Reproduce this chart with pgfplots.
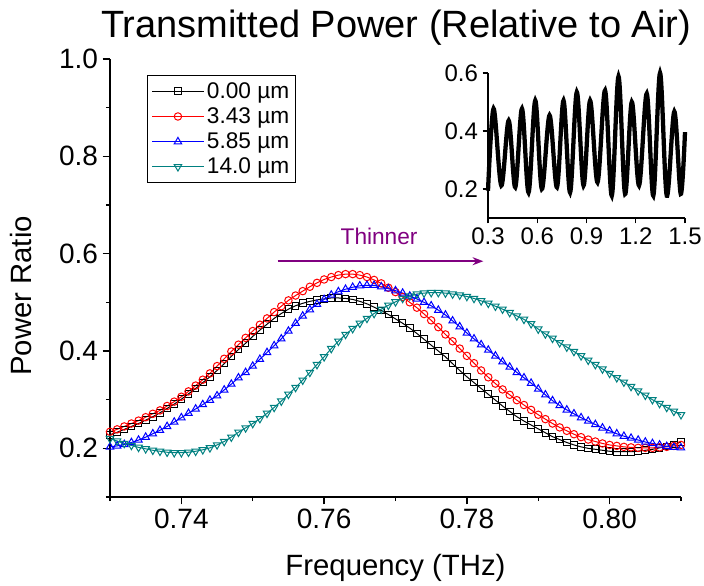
\documentclass[border=0pt]{standalone}
\usepackage{pgfplots}
\pgfplotsset{compat=1.18}
\usepackage{pgfplotstable}
\usepackage{fontspec}
\setmainfont{Liberation Sans}
\usetikzlibrary{arrows.meta}
\definecolor{tealc}{RGB}{0,128,128}
\definecolor{purp}{RGB}{128,0,128}

\pgfplotstableread{
x y
0.730 0.228
0.731 0.233
0.732 0.239
0.733 0.245
0.734 0.251
0.735 0.258
0.736 0.265
0.737 0.273
0.738 0.282
0.739 0.291
0.740 0.301
0.741 0.312
0.742 0.323
0.743 0.335
0.744 0.347
0.745 0.360
0.746 0.374
0.747 0.389
0.748 0.403
0.749 0.416
0.750 0.430
0.751 0.443
0.752 0.455
0.753 0.467
0.754 0.477
0.755 0.486
0.756 0.493
0.757 0.498
0.758 0.502
0.759 0.505
0.760 0.507
0.761 0.509
0.762 0.509
0.763 0.508
0.764 0.506
0.765 0.502
0.766 0.497
0.767 0.490
0.768 0.483
0.769 0.475
0.770 0.466
0.771 0.457
0.772 0.447
0.773 0.436
0.774 0.424
0.775 0.412
0.776 0.400
0.777 0.388
0.778 0.374
0.779 0.360
0.780 0.347
0.781 0.335
0.782 0.323
0.783 0.311
0.784 0.299
0.785 0.287
0.786 0.276
0.787 0.265
0.788 0.256
0.789 0.248
0.790 0.240
0.791 0.232
0.792 0.224
0.793 0.218
0.794 0.212
0.795 0.207
0.796 0.203
0.797 0.200
0.798 0.198
0.799 0.196
0.800 0.194
0.801 0.193
0.802 0.193
0.803 0.193
0.804 0.194
0.805 0.196
0.806 0.198
0.807 0.201
0.808 0.204
0.809 0.208
0.810 0.213
}\tblack

\pgfplotstableread{
x y
0.730 0.234
0.731 0.239
0.732 0.245
0.733 0.251
0.734 0.257
0.735 0.264
0.736 0.271
0.737 0.278
0.738 0.287
0.739 0.296
0.740 0.306
0.741 0.317
0.742 0.329
0.743 0.341
0.744 0.354
0.745 0.369
0.746 0.384
0.747 0.399
0.748 0.413
0.749 0.427
0.750 0.441
0.751 0.454
0.752 0.467
0.753 0.480
0.754 0.492
0.755 0.504
0.756 0.514
0.757 0.523
0.758 0.532
0.759 0.540
0.760 0.547
0.761 0.552
0.762 0.556
0.763 0.558
0.764 0.558
0.765 0.556
0.766 0.552
0.767 0.546
0.768 0.539
0.769 0.530
0.770 0.521
0.771 0.511
0.772 0.500
0.773 0.489
0.774 0.476
0.775 0.463
0.776 0.449
0.777 0.434
0.778 0.420
0.779 0.405
0.780 0.390
0.781 0.375
0.782 0.360
0.783 0.346
0.784 0.333
0.785 0.321
0.786 0.310
0.787 0.299
0.788 0.289
0.789 0.279
0.790 0.269
0.791 0.260
0.792 0.251
0.793 0.243
0.794 0.236
0.795 0.229
0.796 0.223
0.797 0.218
0.798 0.214
0.799 0.210
0.800 0.207
0.801 0.205
0.802 0.203
0.803 0.202
0.804 0.201
0.805 0.201
0.806 0.201
0.807 0.202
0.808 0.203
0.809 0.205
0.810 0.207
}\tred

\pgfplotstableread{
x y
0.730 0.203
0.731 0.205
0.732 0.208
0.733 0.212
0.734 0.217
0.735 0.223
0.736 0.230
0.737 0.237
0.738 0.245
0.739 0.254
0.740 0.263
0.741 0.272
0.742 0.281
0.743 0.290
0.744 0.299
0.745 0.308
0.746 0.320
0.747 0.332
0.748 0.345
0.749 0.356
0.750 0.369
0.751 0.383
0.752 0.397
0.753 0.411
0.754 0.425
0.755 0.441
0.756 0.457
0.757 0.472
0.758 0.485
0.759 0.496
0.760 0.506
0.761 0.515
0.762 0.522
0.763 0.527
0.764 0.531
0.765 0.534
0.766 0.535
0.767 0.535
0.768 0.532
0.769 0.528
0.770 0.524
0.771 0.519
0.772 0.513
0.773 0.507
0.774 0.500
0.775 0.493
0.776 0.484
0.777 0.474
0.778 0.462
0.779 0.450
0.780 0.437
0.781 0.425
0.782 0.413
0.783 0.402
0.784 0.390
0.785 0.378
0.786 0.367
0.787 0.356
0.788 0.345
0.789 0.334
0.790 0.322
0.791 0.310
0.792 0.298
0.793 0.288
0.794 0.279
0.795 0.271
0.796 0.263
0.797 0.256
0.798 0.249
0.799 0.242
0.800 0.236
0.801 0.230
0.802 0.225
0.803 0.221
0.804 0.217
0.805 0.213
0.806 0.210
0.807 0.207
0.808 0.204
0.809 0.202
0.810 0.201
}\tblue

\pgfplotstableread{
x y
0.730 0.220
0.731 0.215
0.732 0.210
0.733 0.206
0.734 0.202
0.735 0.199
0.736 0.196
0.737 0.194
0.738 0.192
0.739 0.191
0.740 0.191
0.741 0.192
0.742 0.194
0.743 0.197
0.744 0.201
0.745 0.207
0.746 0.214
0.747 0.223
0.748 0.233
0.749 0.242
0.750 0.251
0.751 0.261
0.752 0.272
0.753 0.284
0.754 0.297
0.755 0.311
0.756 0.325
0.757 0.340
0.758 0.356
0.759 0.372
0.760 0.388
0.761 0.405
0.762 0.420
0.763 0.434
0.764 0.446
0.765 0.457
0.766 0.467
0.767 0.477
0.768 0.486
0.769 0.494
0.770 0.501
0.771 0.508
0.772 0.513
0.773 0.517
0.774 0.519
0.775 0.520
0.776 0.520
0.777 0.519
0.778 0.517
0.779 0.515
0.780 0.512
0.781 0.508
0.782 0.503
0.783 0.498
0.784 0.492
0.785 0.486
0.786 0.479
0.787 0.472
0.788 0.465
0.789 0.456
0.790 0.445
0.791 0.435
0.792 0.426
0.793 0.417
0.794 0.408
0.795 0.399
0.796 0.390
0.797 0.381
0.798 0.372
0.799 0.363
0.800 0.354
0.801 0.345
0.802 0.336
0.803 0.327
0.804 0.318
0.805 0.309
0.806 0.300
0.807 0.292
0.808 0.284
0.809 0.276
0.810 0.269
}\tteal

\pgfplotstableread{
x y
0.300 0.194
0.334 0.477
0.381 0.212
0.426 0.436
0.466 0.206
0.507 0.477
0.547 0.188
0.588 0.505
0.628 0.200
0.675 0.454
0.720 0.206
0.760 0.505
0.800 0.188
0.841 0.534
0.882 0.212
0.922 0.505
0.967 0.223
1.013 0.540
1.054 0.177
1.095 0.588
1.135 0.183
1.176 0.500
1.220 0.212
1.267 0.529
1.307 0.177
1.348 0.600
1.389 0.177
1.435 0.467
1.474 0.183
1.500 0.396
}\tinset

\begin{document}
\begin{tikzpicture}
\path[use as bounding box] (0,0) rectangle (528pt,439.5pt);
\node[font=\fontsize{28.5}{33}\selectfont] at (297pt,418.5pt) {Transmitted Power (Relative to Air)};
\begin{axis}[
  at={(82.5pt,66.75pt)}, anchor=south west,
  scale only axis, width=428.25pt, height=328.5pt,
  xmin=0.73, xmax=0.81, ymin=0.1, ymax=1.0,
  axis x line*=bottom, axis y line*=left,
  axis line style={line width=1pt},
  every tick/.style={black, line width=1pt},
  tick align=outside,
  major tick length=5.5pt, minor tick length=3pt,
  xtick={0.74,0.76,0.78,0.80},
  minor xtick={0.73,0.75,0.77,0.79,0.81},
  ytick={0.2,0.4,0.6,0.8,1.0},
  minor ytick={0.1,0.3,0.5,0.7,0.9},
  /pgf/number format/assume math mode=true,
  xticklabel style={/pgf/number format/.cd, fixed, fixed zerofill, precision=2, /tikz/.cd, font=\fontsize{21}{25}\selectfont},
  yticklabel style={/pgf/number format/.cd, fixed, fixed zerofill, precision=1, /tikz/.cd, font=\fontsize{21}{25}\selectfont},
  xlabel={Frequency (THz)}, ylabel={Power Ratio},
  xlabel style={at={(axis description cs:0.5,-0.162)}, anchor=center, font=\fontsize{22}{26}\selectfont},
  ylabel style={at={(axis description cs:-0.155,0.459)}, anchor=center, rotate=0, font=\fontsize{22}{26}\selectfont},
  clip=false,
  legend style={at={(axis description cs:0.065,0.963)}, anchor=north west,
    font=\fontsize{17}{20}\selectfont, draw=black, line width=0.8pt,
    inner xsep=3pt, inner ysep=3pt, row sep=1.5pt},
  legend cell align=left,
  legend image code/.code={\draw[mark repeat=2,mark phase=2] plot coordinates {(0cm,0cm) (0.68cm,0cm) (1.36cm,0cm)};},
]
\addplot[black, line width=0.75pt, mark=square, mark size=2.5pt, mark options={fill=white, line width=0.75pt}] table {\tblack};
\addlegendentry{0.00 µm}
\addplot[red, line width=0.75pt, mark=o, mark size=2.8pt, mark options={fill=white, line width=0.75pt}] table {\tred};
\addlegendentry{3.43 µm}
\addplot[blue, line width=0.75pt, mark=triangle, mark size=3.2pt, mark options={fill=white, line width=0.75pt}] table {\tblue};
\addlegendentry{5.85 µm}
\addplot[tealc, line width=0.75pt, mark=triangle, mark size=3.2pt, mark options={fill=white, line width=0.75pt, rotate=180}] table {\tteal};
\addlegendentry{14.0 µm}
\draw[purp, line width=1.5pt, -{Stealth[length=8pt,width=6pt]}] (axis cs:0.7535,0.5845) -- (axis cs:0.7823,0.5845);
\node[purp, font=\fontsize{17}{20}\selectfont] at (axis cs:0.7677,0.636) {Thinner};
\end{axis}
\begin{axis}[
  at={(366pt,276pt)}, anchor=south west,
  scale only axis, width=147.75pt, height=108.75pt,
  xmin=0.3, xmax=1.5, ymin=0.1, ymax=0.6,
  axis x line*=bottom, axis y line*=left,
  axis line style={line width=0.8pt},
  every tick/.style={black, line width=0.8pt},
  tick align=outside, major tick length=4pt,
  xtick={0.3,0.6,0.9,1.2,1.5}, ytick={0.2,0.4,0.6},
  /pgf/number format/assume math mode=true,
  xticklabel style={/pgf/number format/.cd, fixed, fixed zerofill, precision=1, /tikz/.cd, font=\fontsize{18}{21}\selectfont},
  yticklabel style={/pgf/number format/.cd, fixed, fixed zerofill, precision=1, /tikz/.cd, font=\fontsize{18}{21}\selectfont},
  clip=false,
]
\addplot[black, line width=3.2pt, smooth, tension=0.55] table {\tinset};
\end{axis}
\end{tikzpicture}
\end{document}
